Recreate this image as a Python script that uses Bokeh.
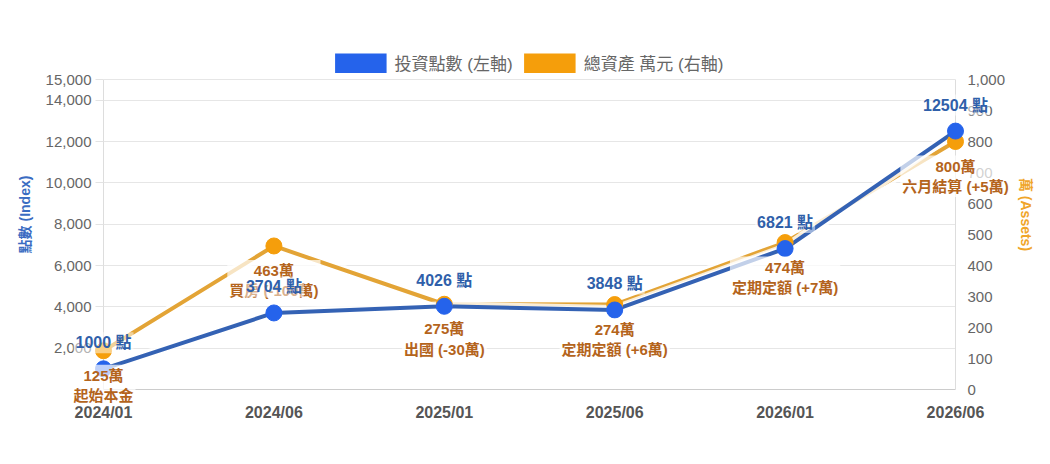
from bokeh.plotting import figure
from bokeh.models import (Range1d, LinearAxis, FixedTicker, NumeralTickFormatter,
                          Legend, LegendItem, ColumnDataSource)
from bokeh.core.properties import value
from bokeh.embed import file_html
from bokeh.resources import INLINE

# ---- data ----
periods = ["2024/01", "2024/06", "2025/01", "2025/06", "2026/01", "2026/06"]
index_points = [1000, 3704, 4026, 3848, 6821, 12504]
assets_wan = [125, 463, 275, 274, 474, 800]
asset_notes = ["起始本金", "買房 (-100萬)", "出國 (-30萬)", "定期定額 (+6萬)",
               "定期定額 (+7萬)", "六月結算 (+5萬)"]
left_ticks = [2000, 4000, 6000, 8000, 10000, 12000, 14000, 15000]
right_ticks = [0, 100, 200, 300, 400, 500, 600, 700, 800, 900, 1000]
left_max = 15000
right_max = 1000
series_names = ["投資點數 (左軸)", "總資產 萬元 (右軸)"]
left_title = "點數 (Index)"
right_title = "萬 (Assets)"

FONT = "Liberation Sans, Noto Sans CJK TC"
BLUE = "#2563eb"
BLUE_LINE = "#3462b4"
BLUE_TEXT = "#2f5faa"
ORANGE = "#f59e0b"
ORANGE_LINE = "#e3a436"
ORANGE_TEXT = "#b4641c"

# layout: axis area 310px tall, plus a 40px strip above it for the legend
AXIS_PX = 310
LEGEND_PX = 40
left_top = left_max * (AXIS_PX + LEGEND_PX) / AXIS_PX
right_top = right_max * (AXIS_PX + LEGEND_PX) / AXIS_PX

xs = list(range(len(periods)))
src = ColumnDataSource(dict(
    x=xs,
    idx=index_points,
    assets=assets_wan,
    idx_label=[f"{v} 點" for v in index_points],
    asset_label=[f"{a}萬\n{n}" for a, n in zip(assets_wan, asset_notes)],
))

p = figure(width=1042, height=456, output_backend="svg", toolbar_location=None,
           x_range=Range1d(0, len(periods) - 1), y_range=Range1d(0, left_top),
           min_border_left=103, min_border_right=87, min_border_top=39,
           min_border_bottom=67)
p.outline_line_color = None
p.background_fill_color = "white"
p.border_fill_color = "white"
p.extra_y_ranges = {"assets": Range1d(0, right_top)}

# x axis
xa = p.xaxis[0]
xa.ticker = FixedTicker(ticks=xs)
xa.major_label_overrides = {i: lab for i, lab in enumerate(periods)}
xa.major_label_text_font = FONT
xa.major_label_text_font_size = "16px"
xa.major_label_text_font_style = "bold"
xa.major_label_text_color = "#555555"
xa.major_label_standoff = 8
xa.major_tick_line_color = None
xa.minor_tick_line_color = None
xa.axis_line_color = "#cccccc"
p.xgrid.visible = False

# left axis
ya = p.yaxis[0]
ya.bounds = (0, left_max)
ya.ticker = FixedTicker(ticks=left_ticks)
ya.formatter = NumeralTickFormatter(format="0,0")
ya.major_label_text_font = FONT
ya.major_label_text_font_size = "15px"
ya.major_label_text_color = "#666666"
ya.major_tick_out = 8
ya.major_tick_in = 0
ya.major_tick_line_color = "#e3e3e3"
ya.minor_tick_line_color = None
ya.axis_line_color = "#dddddd"
ya.major_label_standoff = 4
ya.axis_label = left_title
ya.axis_label_text_font = FONT
ya.axis_label_text_font_size = "14px"
ya.axis_label_text_font_style = "bold"
ya.axis_label_text_color = "#3a6cc2"
ya.axis_label_standoff = 10
p.ygrid.ticker = FixedTicker(ticks=left_ticks)
p.ygrid.grid_line_color = "#e6e6e6"

# right axis
ra = LinearAxis(y_range_name="assets", ticker=FixedTicker(ticks=right_ticks),
                formatter=NumeralTickFormatter(format="0,0"))
ra.bounds = (0, right_max)
ra.major_label_text_font = FONT
ra.major_label_text_font_size = "15px"
ra.major_label_text_color = "#666666"
ra.major_tick_out = 0
ra.major_tick_in = 0
ra.minor_tick_line_color = None
ra.axis_line_color = "#dddddd"
ra.major_label_standoff = 12
ra.axis_label = right_title
ra.axis_label_text_font = FONT
ra.axis_label_text_font_size = "14px"
ra.axis_label_text_font_style = "bold"
ra.axis_label_text_color = "#f0a52a"
ra.axis_label_standoff = 10
p.add_layout(ra, "right")

# orange series (right axis)
p.line("x", "assets", source=src, y_range_name="assets", line_color="white",
       line_width=10, line_alpha=0.8)
p.line("x", "assets", source=src, y_range_name="assets",
       line_color=ORANGE_LINE, line_width=4, line_join="round")
# blue series (left axis)
p.line("x", "idx", source=src, line_color="white", line_width=10, line_alpha=0.8)
p.line("x", "idx", source=src, line_color=BLUE_LINE, line_width=4,
       line_join="round")

p.scatter("x", "assets", source=src, y_range_name="assets", size=16,
          fill_color=ORANGE, line_color=ORANGE, level="overlay")
p.scatter("x", "idx", source=src, size=16, fill_color=BLUE, line_color=BLUE,
          level="overlay")

# labels
p.text("x", "assets", text="asset_label", source=src, y_range_name="assets",
       text_font=value(FONT), text_font_size="15px", text_font_style="bold",
       text_color=ORANGE_TEXT, text_align="center", text_baseline="top",
       y_offset=14, background_fill_color="white", background_fill_alpha=0.7,
       padding=2, level="overlay")
p.text("x", "idx", text="idx_label", source=src,
       text_font=value(FONT), text_font_size="16px", text_font_style="bold",
       text_color=BLUE_TEXT, text_align="center", text_baseline="middle",
       y_offset=-26, background_fill_color="white", background_fill_alpha=0.5,
       padding=2, level="overlay")

# legend swatches: thick line glyphs (legend representation only)
lb = p.line(x=[-10, -9], y=[-10, -10], line_color=BLUE, line_width=20)
lo = p.line(x=[-10, -9], y=[-10, -10], line_color=ORANGE, line_width=20)
legend = Legend(items=[LegendItem(label=series_names[0], renderers=[lb]),
                       LegendItem(label=series_names[1], renderers=[lo])],
                orientation="horizontal", location="top_center",
                border_line_color=None, background_fill_alpha=0,
                label_text_font=FONT, label_text_font_size="17px",
                label_text_color="#666666", glyph_width=52, glyph_height=20,
                spacing=11, label_standoff=8, padding=0, margin=11)
p.add_layout(legend, "center")

open("out.html", "w").write(file_html(p, INLINE))
